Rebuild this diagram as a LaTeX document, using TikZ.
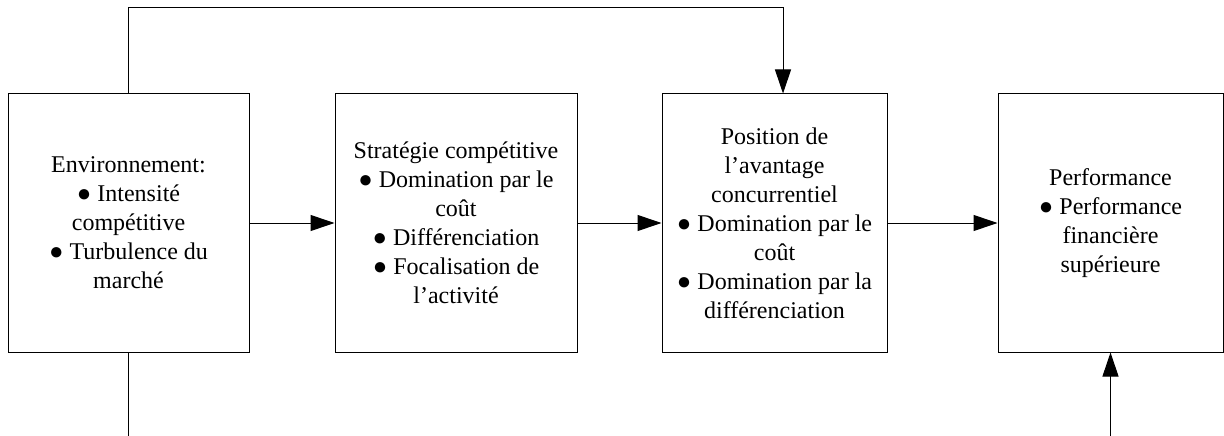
\documentclass[tikz,border=0pt]{standalone}
\usepackage{fontspec}
\setmainfont{Liberation Serif}
\usetikzlibrary{arrows.meta}
\begin{document}
\begin{tikzpicture}[x=1pt,y=-1pt,
  box/.style={draw=black,line width=1pt,rectangle,minimum height=258pt,inner sep=0pt,
    align=center,font=\fontsize{24}{29}\selectfont},
  conn/.style={draw=black,line width=1pt},
  arr/.style={conn,-{Triangle[length=24pt,width=16pt]}}]
\useasboundingbox (0,0) rectangle (1224,436);
\node[box,minimum width=241pt] (env) at (128.5,223) {Environnement:\\● Intensité\\compétitive\\● Turbulence du\\marché};
\node[box,minimum width=242pt] (strat) at (456,223) {Stratégie compétitive\\● Domination par le\\coût\\● Différenciation\\● Focalisation de\\l’activité};
\node[box,minimum width=225pt] (pos) at (774.5,223) {Position de\\l’avantage\\concurrentiel\\● Domination par le\\coût\\● Domination par la\\différenciation};
\node[box,minimum width=225pt] (perf) at (1110.5,223) {Performance\\● Performance\\financière\\supérieure};
\coordinate (top) at (128,8);
\coordinate (bot1) at (128,436);
\coordinate (bot4) at (1110.5,436);
\draw[arr] (env) -- (strat);
\draw[arr] (strat) -- (pos);
\draw[arr] (pos) -- (perf);
\draw[arr] (env.north -| top) -- (top) -| (pos.north -| 783,0);
\draw[conn] (env.south -| bot1) -- (bot1);
\draw[arr] (bot4) -- (perf.south);
\end{tikzpicture}
\end{document}
